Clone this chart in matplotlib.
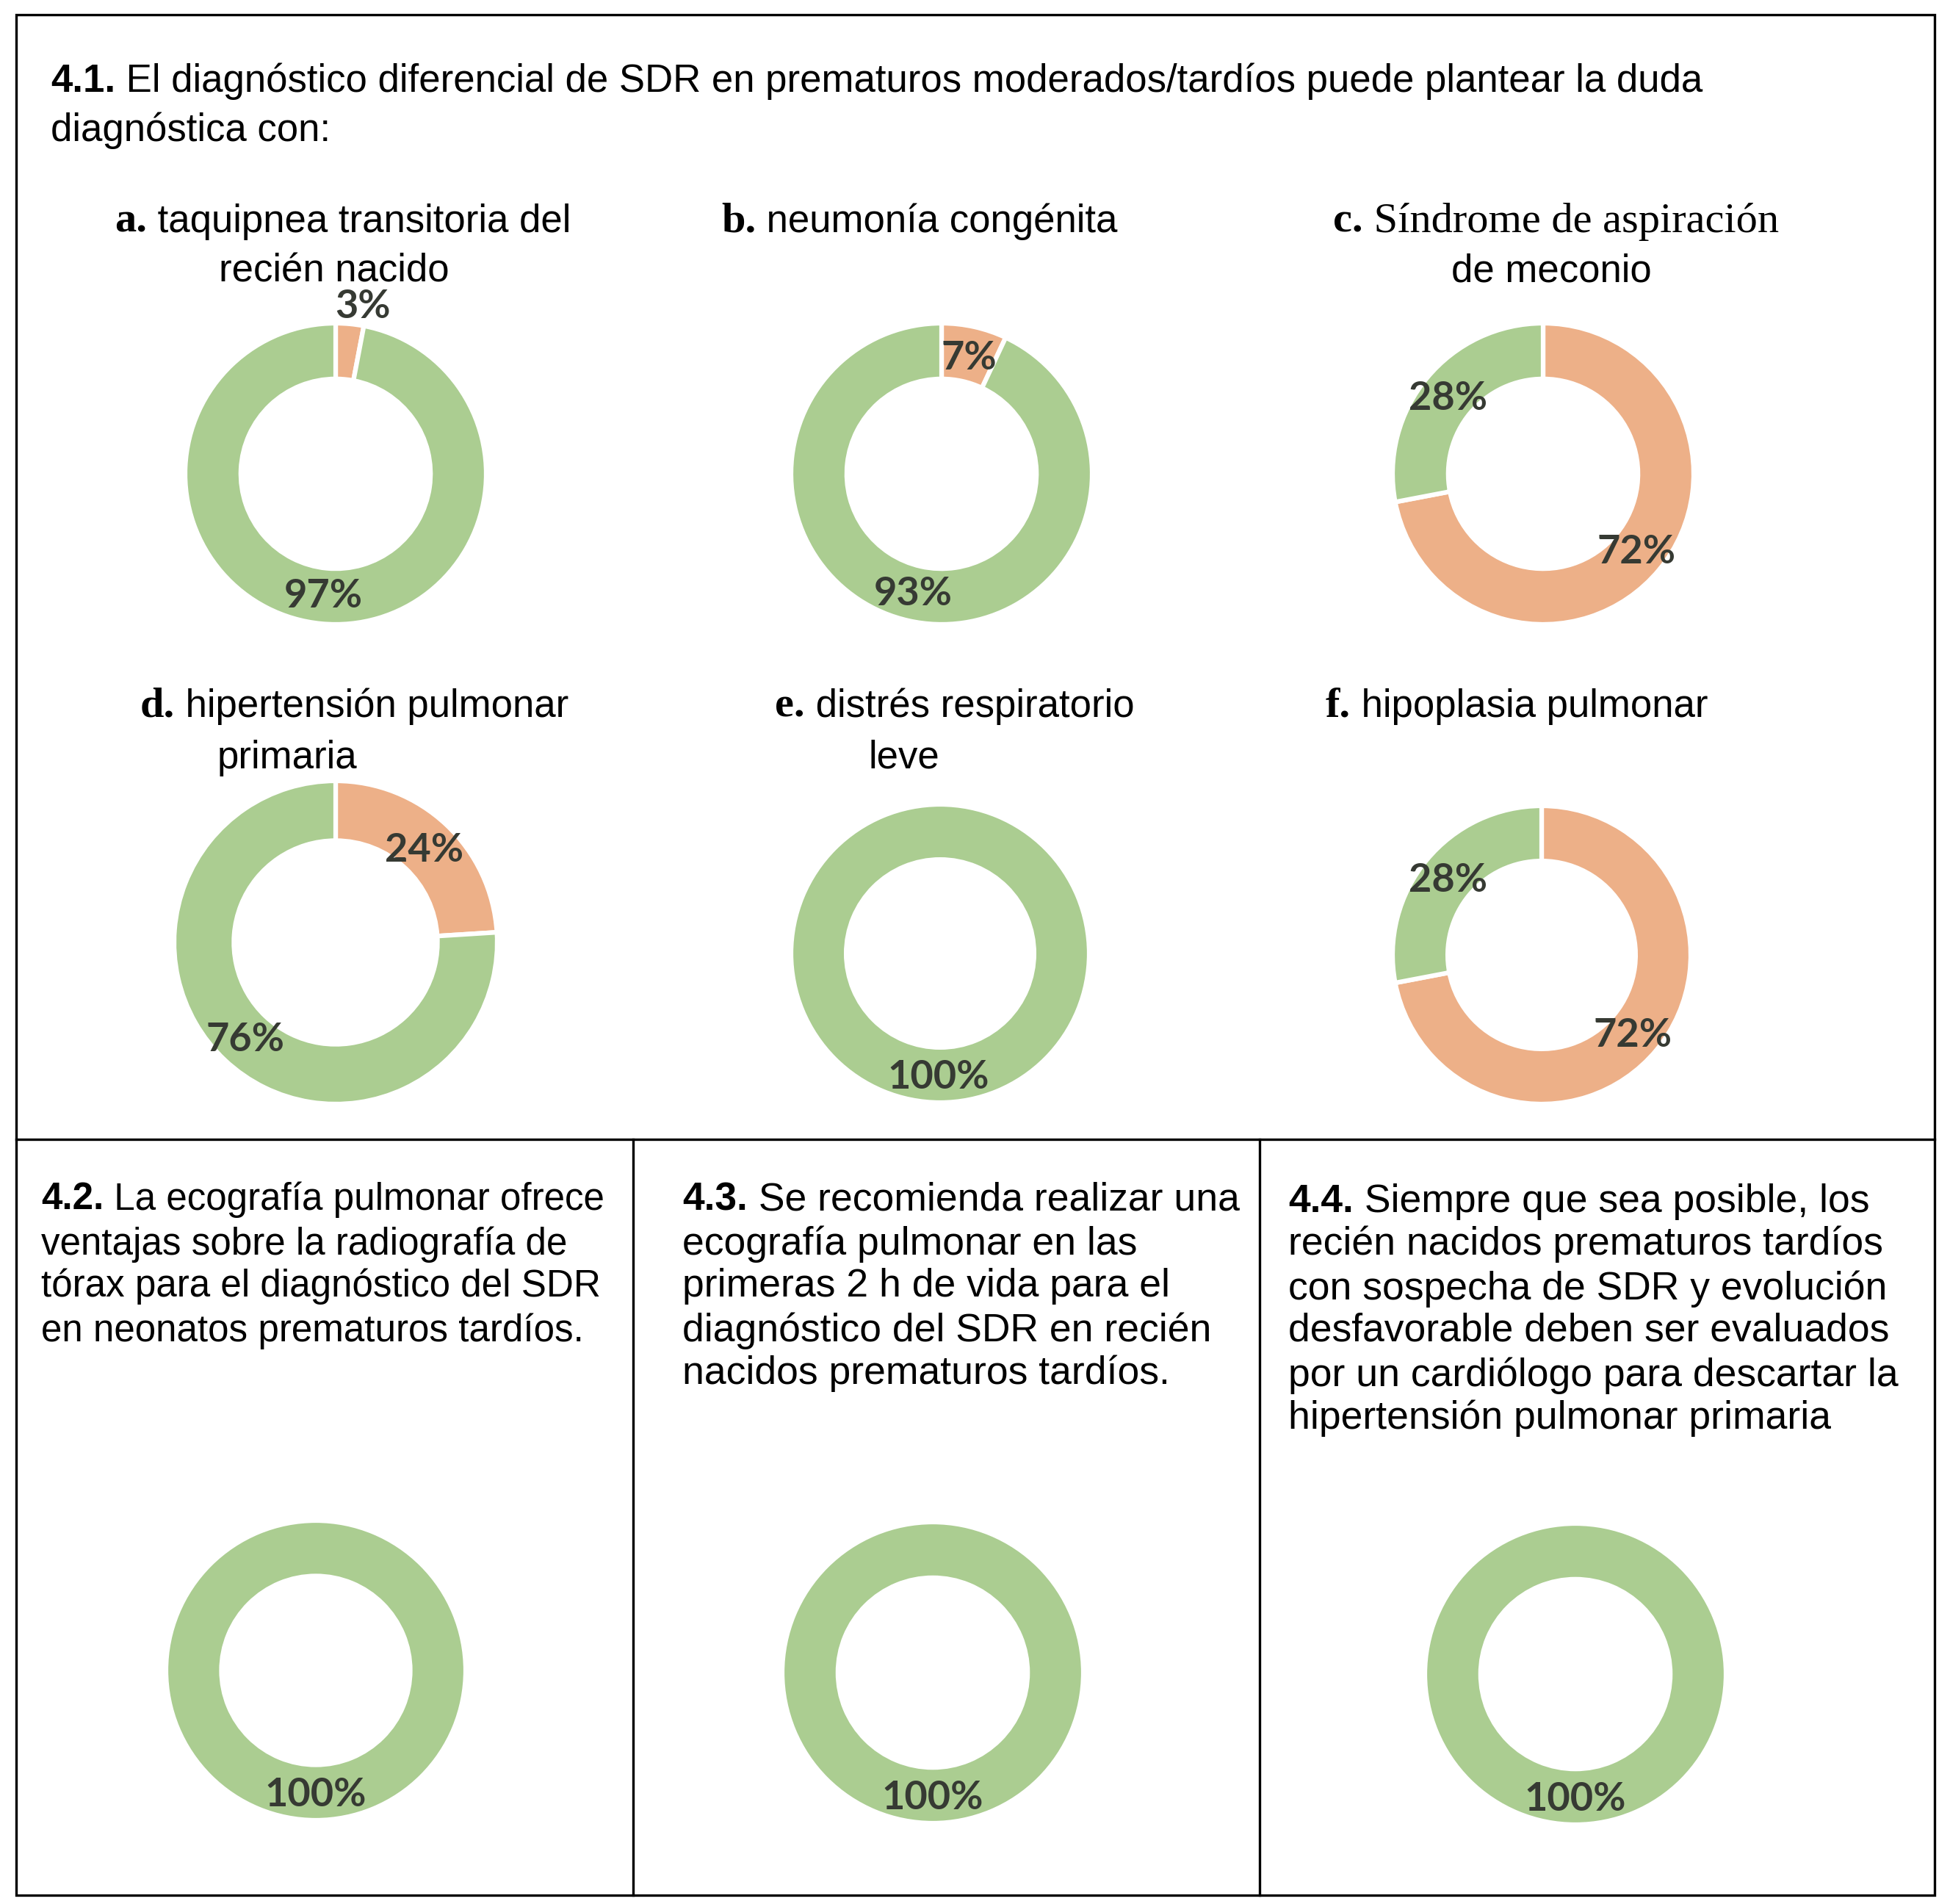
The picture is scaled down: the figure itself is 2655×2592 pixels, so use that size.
import matplotlib
matplotlib.use("Agg")
import matplotlib.pyplot as plt
from matplotlib.lines import Line2D
from matplotlib.patches import Rectangle

W, H = 2655, 2592
DPI = 100

# ---------------- data ----------------
chart_keys = ["a", "b", "c", "d", "e", "f", "4.2", "4.3", "4.4"]
orange_pct = [3, 7, 72, 24, 0, 72, 0, 0, 0]
green_pct = [97, 93, 28, 76, 100, 28, 100, 100, 100]

title_num = "4.1."
title_lines = [" El diagnóstico diferencial de SDR en prematuros moderados/tardíos puede plantear la duda",
               "diagnóstica con:"]

sub_letters = ["a.", "b.", "c.", "d.", "e.", "f."]
sub_line1 = [" taquipnea transitoria del", " neumonía congénita", " Síndrome de aspiración",
             " hipertensión pulmonar", " distrés respiratorio", " hipoplasia pulmonar"]
sub_line2 = ["recién nacido", "", "de meconio", "primaria", "leve", ""]

q_numbers = ["4.2.", "4.3.", "4.4."]
q_lines = [
    [" La ecografía pulmonar ofrece", "ventajas sobre la radiografía de",
     "tórax para el diagnóstico del SDR", "en neonatos prematuros tardíos."],
    [" Se recomienda realizar una", "ecografía pulmonar en las",
     "primeras 2 h de vida para el", "diagnóstico del SDR en recién",
     "nacidos prematuros tardíos."],
    [" Siempre que sea posible, los", "recién nacidos prematuros tardíos",
     "con sospecha de SDR y evolución", "desfavorable deben ser evaluados",
     "por un cardiólogo para descartar la", "hipertensión pulmonar primaria"],
]

# ---------------- style / layout ----------------
GREEN = "#ABCD91"
ORANGE = "#EDB088"
LABEL_COLOR = "#363a33"
SANS = "Liberation Sans"
SERIF = "Liberation Serif"
LABEL_FONT = "Lato"

# donut centre (px from left, px from top) and outer radius in px
centers = [(457, 645), (1282, 645), (2101, 645),
           (457, 1283), (1280, 1298), (2099, 1300),
           (430, 2274), (1270, 2277), (2145, 2279)]
radii = [205, 205, 205, 220, 203, 203, 204, 205, 205]
# label offsets in units of radius: (orange label, green label)
label_pos = [
    [(0.18, 1.11), (-0.08, -0.81)],
    [(0.18, 0.77), (-0.19, -0.80)],
    [(0.62, -0.52), (-0.63, 0.50)],
    [(0.55, 0.57), (-0.56, -0.60)],
    [None, (-0.01, -0.83)],
    [(0.61, -0.54), (-0.63, 0.50)],
    [None, (0.0, -0.83)],
    [None, (0.0, -0.83)],
    [None, (0.0, -0.83)],
]

fig = plt.figure(figsize=(W / DPI, H / DPI), dpi=DPI)
fig.patch.set_facecolor("white")
renderer = fig.canvas.get_renderer()

DY = 4  # small vertical text offset


def fx(x):
    return x / W


def fy(y):
    return 1 - y / H


def run(x, y, parts, va="center"):
    for s, kw in parts:
        t = fig.text(fx(x), fy(y + DY), s, va=va, ha="left", **kw)
        bb = t.get_window_extent(renderer=renderer)
        x += bb.width


# ---------------- frame ----------------
LW = 2.4
fig.add_artist(Rectangle((fx(22), fy(2580)), fx(2634) - fx(22), fy(20) - fy(2580),
                         transform=fig.transFigure, fill=False, edgecolor="black", lw=LW))
fig.add_artist(Line2D([fx(22), fx(2634)], [fy(1551), fy(1551)], transform=fig.transFigure,
                      color="black", lw=LW))
for xv in (862, 1715):
    fig.add_artist(Line2D([fx(xv), fx(xv)], [fy(1551), fy(2580)], transform=fig.transFigure,
                          color="black", lw=LW))

# ---------------- title 4.1 ----------------
TSZ = 38
run(69, 107, [(title_num, dict(family=SANS, weight="bold", size=TSZ)),
              (title_lines[0], dict(family=SANS, size=TSZ))])
run(69, 174, [(title_lines[1], dict(family=SANS, size=TSZ))])

# ---------------- subtitles ----------------
SSZ = 38
sub_x1 = [156, 982, 1815, 191, 1055, 1805]
sub_y1 = [298, 298, 298, 958, 958, 958]
sub_x2 = [298, None, 1976, 296, 1183, None]
sub_y2 = [366, None, 366, 1028, 1028, None]
for i in range(6):
    rest_family = SERIF if i == 2 else SANS
    rest_size = 42 if i == 2 else SSZ
    run(sub_x1[i], sub_y1[i],
        [(sub_letters[i], dict(family=SERIF, weight="bold", size=42)),
         (sub_line1[i], dict(family=rest_family, size=rest_size))])
    if sub_line2[i]:
        run(sub_x2[i], sub_y2[i], [(sub_line2[i], dict(family=SANS, size=SSZ))])

# ---------------- questions 4.2 - 4.4 ----------------
QSZ = [36.8, 38.5, 38.5]
q_x = [56, 929, 1754]
q_y = [[1629, 1690, 1747, 1808],
       [1629, 1690, 1747, 1808, 1866],
       [1632, 1690, 1751, 1808, 1869, 1927]]
for k in range(3):
    for j, line in enumerate(q_lines[k]):
        parts = []
        if j == 0:
            parts.append((q_numbers[k], dict(family=SANS, weight="bold", size=QSZ[k])))
        parts.append((line, dict(family=SANS, size=QSZ[k])))
        run(q_x[k], q_y[k][j], parts)

# ---------------- donuts ----------------
LSZ = 39
for i in range(len(chart_keys)):
    cx, cy = centers[i]
    R = radii[i]
    ax = fig.add_axes([fx(cx - R), fy(cy + R), 2 * R / W, 2 * R / H])
    vals, cols, poss = [], [], []
    for v, c, p in zip([orange_pct[i], green_pct[i]], [ORANGE, GREEN], label_pos[i]):
        if v > 0:
            vals.append(v)
            cols.append(c)
            poss.append(p)
    ax.pie(vals, colors=cols, startangle=90, counterclock=False, radius=1.0,
           wedgeprops=dict(width=0.37, edgecolor="white", linewidth=4.5))
    ax.set_xlim(-1, 1)
    ax.set_ylim(-1, 1)
    ax.axis("off")
    for v, p in zip(vals, poss):
        ax.text(p[0], p[1], f"{v}%", ha="center", va="center", family=LABEL_FONT,
                weight="bold", size=LSZ, color=LABEL_COLOR, clip_on=False)

fig.savefig("out.png", dpi=DPI, facecolor="white")
